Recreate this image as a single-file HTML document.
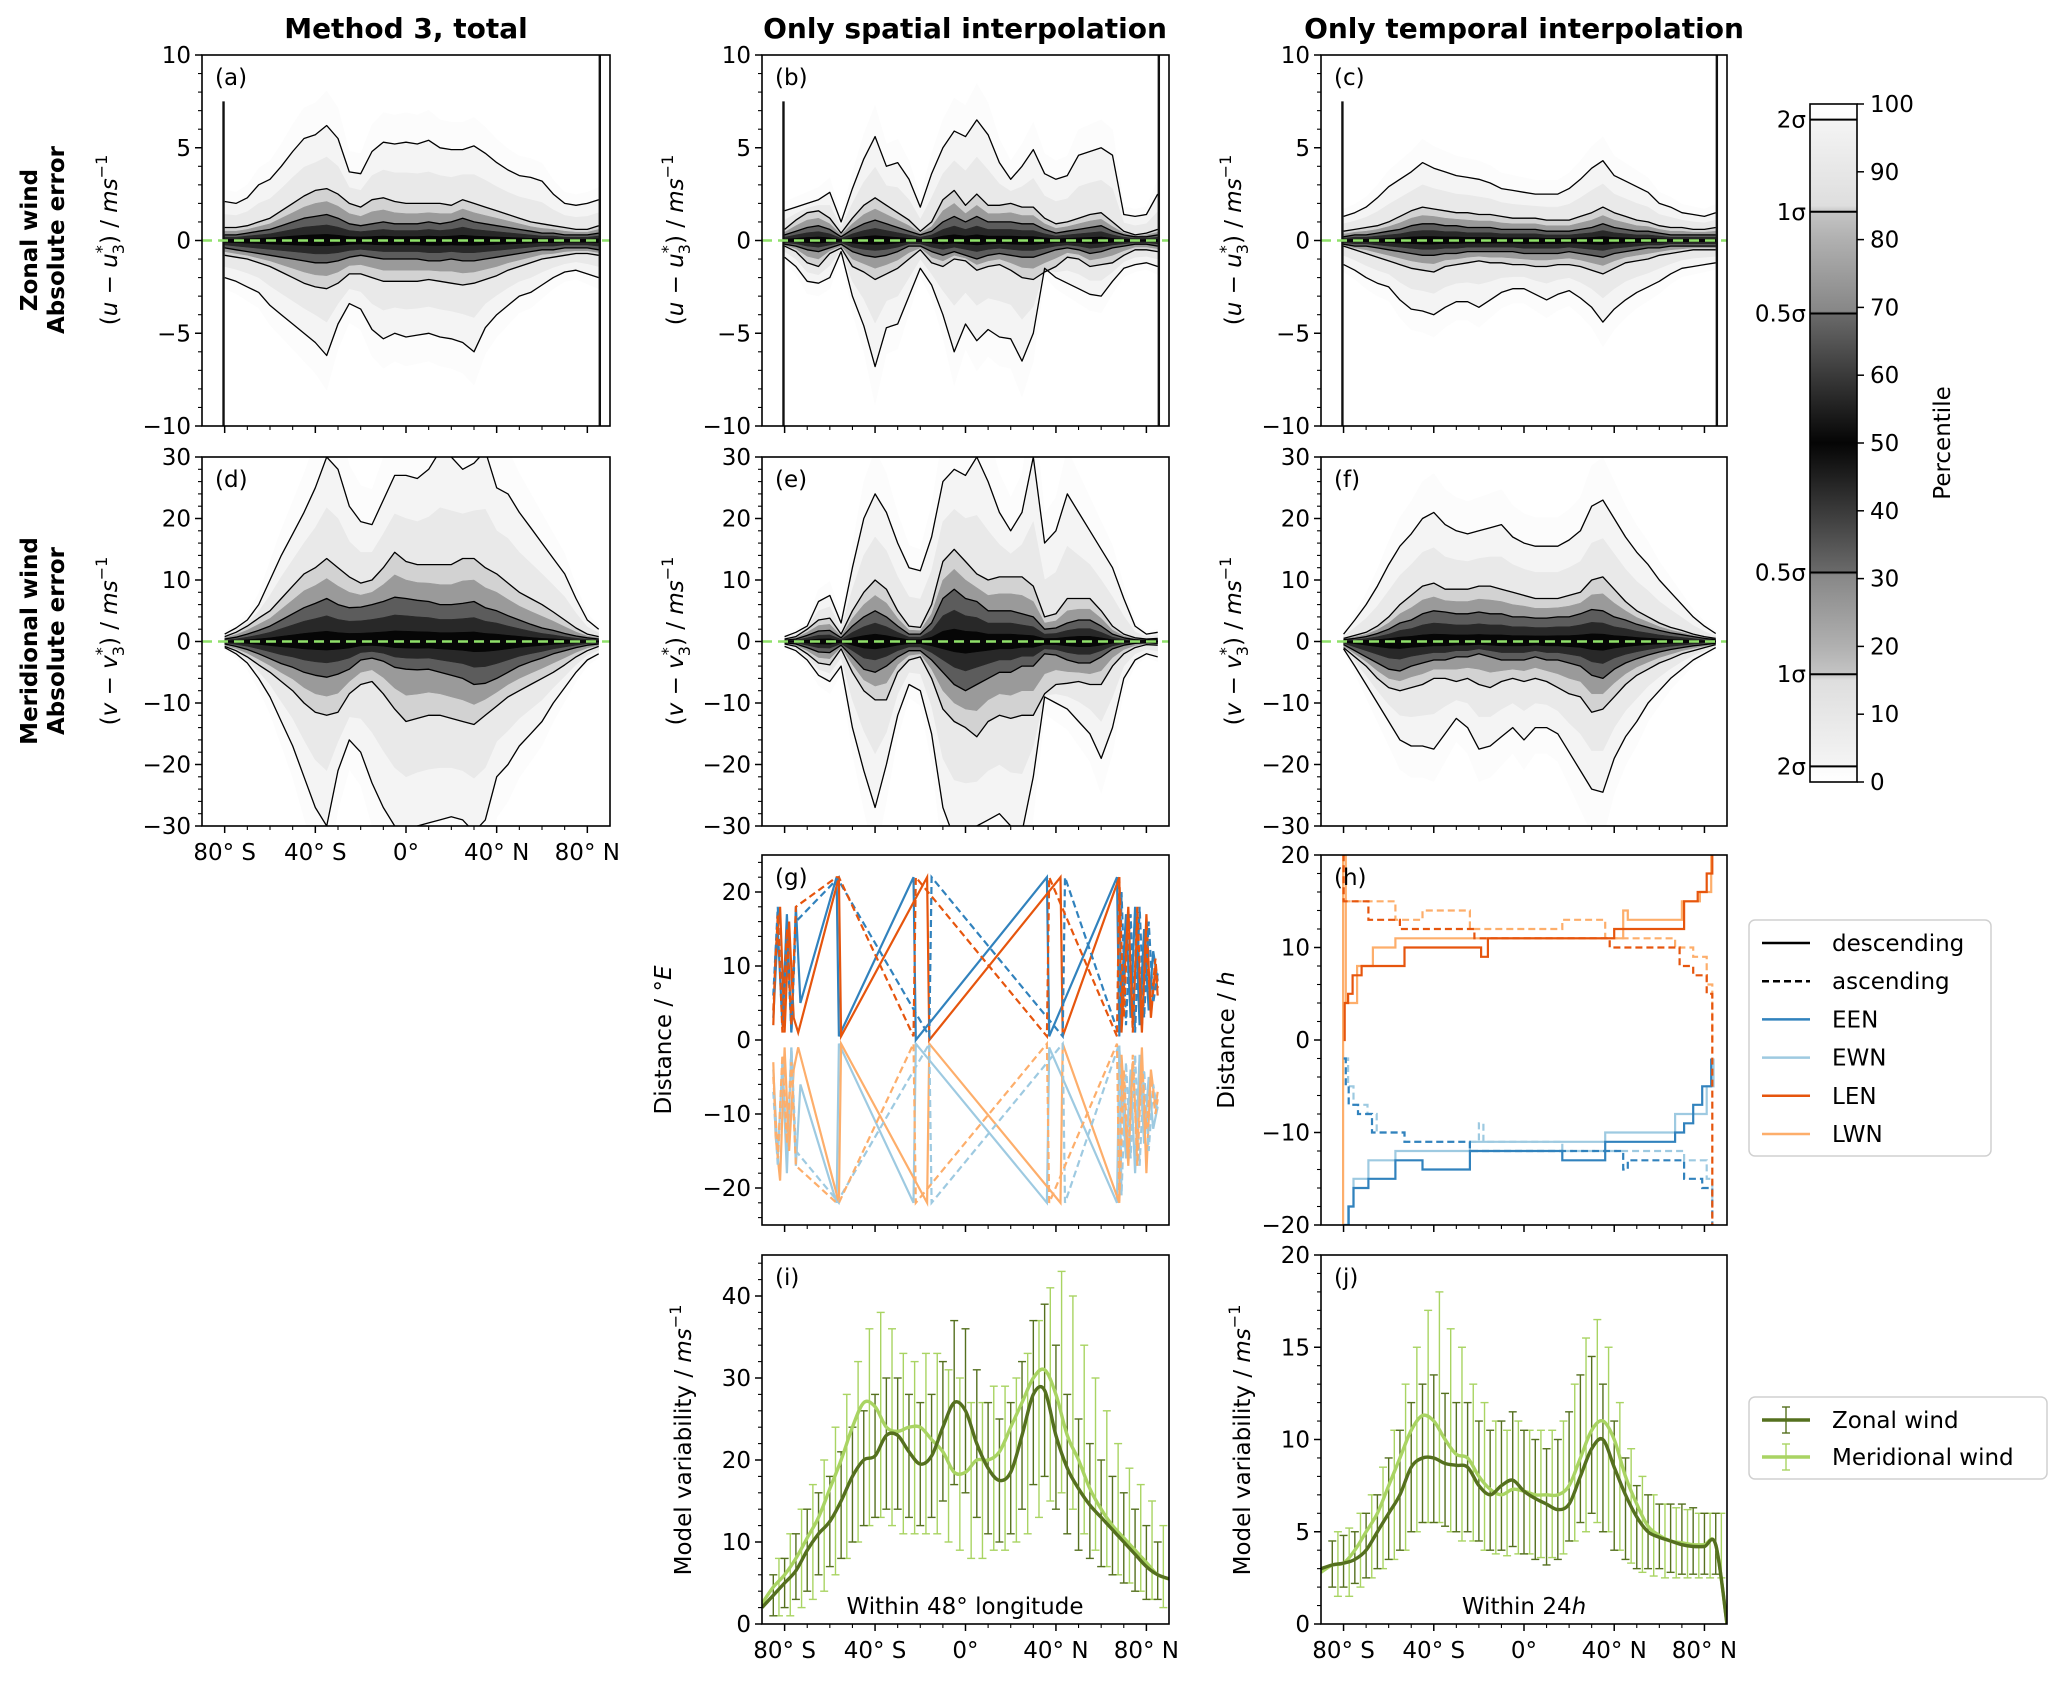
<!DOCTYPE html>
<html><head><meta charset="utf-8"><title>Interpolation error figure</title>
<style>
html,body{margin:0;padding:0;background:#fff;}
svg{display:block;font-family:"DejaVu Sans","Liberation Sans",sans-serif;}
</style></head>
<body>
<svg id="fig" width="2067" height="1681" viewBox="0 0 2067 1681" xmlns="http://www.w3.org/2000/svg"></svg>
<script>
// ---------------- DATA ----------------
const LAT = [-80,-75,-70,-65,-60,-55,-50,-45,-40,-35,-30,-25,-20,-15,-10,-5,0,5,10,15,20,25,30,35,40,45,50,55,60,65,70,75,80,85];
// panel a
const aUp2=[2.1,2.0,2.3,3.0,3.3,4.0,4.8,5.5,5.7,6.2,5.5,3.7,3.6,4.8,5.3,5.2,5.3,5.2,5.4,5.0,4.9,4.9,5.1,4.7,4.2,3.8,3.5,3.4,3.2,2.5,2.0,1.9,2.0,2.2];
const aUp1=[0.7,0.7,0.8,1.0,1.2,1.6,2.0,2.4,2.7,2.8,2.5,2.0,1.8,2.2,2.3,2.1,2.0,2.0,2.0,2.0,1.9,2.2,2.0,1.8,1.6,1.4,1.2,1.0,0.9,0.8,0.7,0.6,0.6,0.8];
const aUp05=[0.3,0.3,0.4,0.5,0.6,0.8,1.0,1.2,1.3,1.4,1.2,0.9,0.8,0.9,1.0,0.9,0.9,0.9,1.0,0.9,1.0,1.2,1.0,0.9,0.8,0.7,0.6,0.5,0.4,0.4,0.3,0.3,0.3,0.4];
const aLo05=[-0.4,-0.5,-0.6,-0.7,-0.8,-0.9,-1.0,-1.1,-1.2,-1.2,-1.1,-0.9,-0.8,-0.9,-1.0,-1.0,-1.0,-1.0,-1.1,-1.1,-1.0,-1.1,-1.1,-1.0,-0.9,-0.8,-0.7,-0.6,-0.5,-0.5,-0.4,-0.4,-0.4,-0.5];
const aLo1=[-0.8,-0.9,-1.0,-1.2,-1.4,-1.7,-2.0,-2.3,-2.5,-2.6,-2.3,-1.8,-1.8,-2.0,-2.2,-2.2,-2.2,-2.2,-2.1,-2.2,-2.3,-2.4,-2.3,-2.1,-1.9,-1.6,-1.4,-1.2,-1.0,-0.9,-0.8,-0.7,-0.7,-0.8];
const aLo2=[-2.0,-2.2,-2.5,-2.8,-3.5,-4.0,-4.5,-5.0,-5.5,-6.2,-4.5,-3.4,-3.7,-4.8,-5.3,-5.0,-5.2,-5.1,-5.0,-5.2,-5.3,-5.5,-6.0,-4.7,-4.0,-3.5,-3.0,-2.8,-2.4,-2.0,-1.7,-1.6,-1.8,-2.0];
// panel b
const bUp2=[1.6,1.8,2.0,2.2,2.6,1.0,2.8,4.4,5.6,4.0,4.2,3.3,1.8,3.6,5.0,5.9,5.6,6.5,5.7,4.2,3.3,4.0,4.9,3.6,3.3,3.5,4.6,4.8,5.0,4.6,1.4,1.3,1.4,2.5];
const bUp1=[0.6,1.1,1.5,1.6,1.2,0.4,1.2,1.9,2.3,1.9,1.5,1.1,0.5,1.0,2.2,2.7,1.9,2.5,1.9,1.9,2.0,1.8,1.8,1.2,0.9,1.0,1.2,1.4,1.5,1.0,0.5,0.3,0.4,0.6];
const bUp05=[0.3,0.5,0.7,0.8,0.6,0.2,0.6,0.9,1.1,0.9,0.7,0.5,0.3,0.5,1.0,1.3,1.0,1.3,1.0,1.0,1.0,0.9,0.9,0.6,0.4,0.5,0.6,0.7,0.8,0.5,0.3,0.2,0.2,0.3];
const bLo05=[-0.2,-0.3,-0.5,-0.6,-0.4,-0.2,-0.6,-0.8,-0.9,-0.8,-0.6,-0.3,-0.3,-0.6,-0.8,-0.6,-0.8,-1.0,-0.8,-0.7,-0.8,-0.9,-0.9,-0.7,-0.5,-0.4,-0.5,-0.7,-0.6,-0.4,-0.3,-0.2,-0.2,-0.3];
const bLo1=[-0.3,-0.6,-1.2,-1.4,-0.7,-0.4,-1.4,-1.7,-2.1,-1.8,-1.5,-1.0,-0.5,-1.2,-1.4,-1.0,-1.1,-1.6,-1.4,-1.3,-1.6,-2.0,-2.1,-1.7,-1.4,-0.9,-1.0,-1.4,-1.3,-1.2,-0.8,-0.5,-0.5,-0.6];
const bLo2=[-0.9,-1.4,-2.2,-2.3,-2.0,-0.6,-3.0,-4.6,-6.8,-4.7,-4.5,-3.0,-1.5,-2.4,-4.0,-6.0,-4.5,-5.4,-4.8,-5.2,-5.3,-6.5,-5.0,-1.5,-2.0,-2.3,-2.6,-2.9,-3.0,-2.2,-1.5,-1.3,-1.2,-1.4];
// panel c
const cUp2=[1.3,1.5,1.8,2.3,2.9,3.3,3.7,4.2,3.9,3.7,3.5,3.4,3.3,3.1,2.8,2.7,2.6,2.5,2.5,2.5,2.8,3.3,3.9,4.3,3.5,3.2,2.9,2.6,2.0,1.8,1.5,1.4,1.3,1.5];
const cUp1=[0.5,0.6,0.7,0.8,1.0,1.3,1.6,1.8,1.7,1.6,1.5,1.5,1.4,1.4,1.3,1.2,1.2,1.2,1.1,1.1,1.1,1.3,1.5,1.8,1.5,1.3,1.1,1.0,0.8,0.7,0.7,0.6,0.6,0.7];
const cUp05=[0.2,0.3,0.3,0.4,0.5,0.6,0.8,0.9,0.9,0.8,0.8,0.7,0.7,0.7,0.6,0.6,0.6,0.6,0.5,0.5,0.5,0.6,0.7,0.9,0.7,0.6,0.5,0.5,0.4,0.3,0.3,0.3,0.3,0.3];
const cLo05=[-0.2,-0.3,-0.3,-0.4,-0.5,-0.6,-0.7,-0.8,-0.8,-0.7,-0.7,-0.6,-0.6,-0.6,-0.6,-0.6,-0.7,-0.7,-0.7,-0.7,-0.6,-0.7,-0.8,-0.9,-0.7,-0.6,-0.5,-0.4,-0.4,-0.3,-0.3,-0.3,-0.3,-0.3];
const cLo1=[-0.3,-0.5,-0.7,-0.9,-1.1,-1.3,-1.5,-1.6,-1.7,-1.4,-1.3,-1.2,-1.1,-1.2,-1.2,-1.3,-1.3,-1.4,-1.4,-1.3,-1.3,-1.4,-1.6,-1.8,-1.5,-1.2,-1.1,-1.0,-0.8,-0.7,-0.6,-0.5,-0.5,-0.5];
const cLo2=[-1.3,-1.6,-2.0,-2.3,-2.5,-3.2,-3.7,-3.8,-4.0,-3.6,-3.3,-3.3,-3.6,-3.2,-2.8,-2.6,-2.6,-2.9,-3.2,-2.9,-2.7,-3.1,-3.6,-4.4,-3.7,-3.2,-2.8,-2.5,-2.2,-1.8,-1.5,-1.4,-1.3,-1.2];
// panel d
const dUp2=[1.2,2.2,3.5,6,10,14,17.5,21,25,30,28,22,19.5,19,23,27,27,26.5,28,31,30,28,29,31,25,24,21,18.5,16,13.5,11,7,3.5,2];
const dUp1=[0.8,1.5,2.5,3.8,5,7,9,11,12,13.5,12,10.5,9.5,10,12,14.5,13,12.5,12.5,12.5,12.5,13.5,13.5,12,11,9.5,8,7,6,4.8,3.5,2.2,1.2,0.8];
const dUp05=[0.4,0.7,1.2,1.8,2.5,3.5,4.5,5.5,6.2,7,6,5.5,5.6,6,6.5,7.2,7,6.7,6.5,6,6,6.2,6.5,5.5,5,4.2,3.5,2.8,2.2,1.8,1.3,0.9,0.6,0.4];
const dLo05=[-0.4,-0.8,-1.3,-2,-2.8,-3.6,-4.2,-5,-5.5,-5.8,-5.3,-4.5,-3,-2.7,-3.2,-4.2,-4.5,-4.6,-4.5,-5,-5.5,-6,-7,-6.8,-6,-5,-4,-3.3,-2.7,-2,-1.5,-1,-0.6,-0.4];
const dLo1=[-0.8,-1.5,-2.5,-3.8,-5,-6.5,-8,-10,-11.5,-12,-11.5,-8.5,-7,-6.5,-8.5,-11,-13,-12.5,-12,-12,-12.5,-13,-13.5,-12,-10.5,-9,-8,-7,-6,-5,-3.8,-2.5,-1.5,-0.8];
const dLo2=[-1,-2,-3.5,-6,-9,-13,-17,-22,-27,-30,-21,-16,-18,-23,-27,-30,-31,-30,-29.5,-29,-28.5,-29,-31,-29,-22,-20,-17,-15,-13,-10,-7.5,-5,-3,-2];
// panel e
const eUp2=[0.8,1.5,2.5,6.5,7.5,3.0,12,20,24,21,16,12,11.5,17,26,28,27,30,26,21,18,21,30,16,18,24,21,18,15,12,7,2.5,1.2,1.5];
const eUp1=[0.4,0.8,2,3.5,3.8,1.2,5,8,10,8.5,5,2.5,2.3,6,13,15,13,11,10,10.5,10.5,10.5,9,4,4.5,7,7,7,5,2.5,1.2,0.6,0.4,0.5];
const eUp05=[0.2,0.4,1,1.7,1.8,0.6,2.5,4,5,4,2.5,1.2,1.2,3,7,8.5,7,6.5,5,5,5,4.5,4,2,2.2,3,3.5,3.5,2.5,1.2,0.6,0.3,0.2,0.3];
const eLo05=[-0.2,-0.4,-1,-1.7,-1.8,-0.6,-2.5,-4.5,-5,-4,-2.5,-1.5,-1.5,-3,-5,-7,-8,-7,-6,-5,-5,-4,-4,-2,-2.2,-3,-3.5,-3.5,-2.5,-1.2,-0.6,-0.3,-0.2,-0.3];
const eLo1=[-0.4,-0.8,-2,-3.5,-3.8,-1.2,-5,-8,-9.5,-9.5,-5,-3,-2.5,-6,-11,-13,-14,-15.5,-13,-12,-12.5,-12,-12,-8.5,-7,-6.8,-6.5,-7,-7,-4,-2,-1,-0.5,-0.6];
const eLo2=[-0.8,-1.5,-3,-5.5,-6.5,-4,-14,-21,-27,-20,-12,-7,-8,-15,-27,-32,-32,-30,-29,-28,-30,-31,-22,-9,-10,-11,-13,-15,-19,-14,-6,-3,-2,-2.5];
// panel f
const fUp2=[1.2,3.5,6,9,12.5,15.5,17.5,20,21,19,18,17.5,18,18.5,19,17,16,15.5,15.5,15.5,16.5,18,22,23,20,17,14.5,12.5,10,8,6,4,2.5,1.3];
const fUp1=[0.5,1.0,1.5,2.5,4,6,7.5,9,9.5,8.5,8.5,8.5,9,9,8.5,8,7.5,7,7,7,7.5,8,10,10.5,8.5,6.5,5,4,3,2.3,1.8,1.2,0.8,0.5];
const fUp05=[0.3,0.5,0.8,1.3,2,3,3.5,4.5,5,4.8,4.5,4.5,4.8,4.5,4.5,4,4,3.8,3.8,4,4,4.5,5.2,5,4,3.5,2.8,2.3,1.8,1.4,1.1,0.8,0.5,0.3];
const fLo05=[-0.5,-1.5,-2.5,-3.5,-4.5,-4.8,-4,-3.5,-3,-3,-2.5,-2.5,-2,-2.5,-3,-3,-3,-2.5,-3,-3,-3.5,-4,-5.5,-6,-4.5,-3.5,-2.8,-2.2,-1.7,-1.3,-1,-0.7,-0.5,-0.3];
const fLo1=[-1,-2.5,-4,-6,-7.5,-8,-7.5,-7,-6,-6,-6.5,-6,-7,-7.5,-6.5,-6,-6.5,-6,-6.5,-7.5,-8.5,-9,-11.5,-11,-9,-7,-5.5,-4.5,-3.5,-2.8,-2,-1.5,-1,-0.5];
const fLo2=[-1.2,-4,-7,-10,-13,-16,-17,-17,-17.5,-15,-12.5,-14,-17.5,-17,-15.5,-14,-16,-14,-14,-15,-18,-21,-24,-24.5,-19,-15.5,-13,-10,-8,-6,-4.5,-3,-2,-1];
// edge spikes [lat, ymin, ymax]
const aSpikes=[[-80.5,-10,7.5],[85.5,-10,10]];
const bSpikes=[[-80.5,-10,7.5],[85.5,-10,10]];
const cSpikes=[[-80.5,-10,7.5],[85.5,-10,10]];

// panel g (distance in degrees east)
const gEENdLat=[-85,-83,-81,-79,-77,-75,-73,-57,-56,-23,-22,36,37,67,68,71,73,75,77,79,81,83,85];
const gEENdVal=[3,15,2,17,1,18,5,22,0.5,22,0,22,0.5,22,1,17,3,18,2,15,4,12,8];
const gLENdLat=[-85,-84,-82,-80,-78,-76,-74,-56,-55,-17,-16,42,43,68,69,72,74,76,78,80,82,84,85];
const gLENdVal=[2,12,18,1,16,3,1,22,0.5,22,0,22,0.5,22,1,18,2,16,1,17,3,10,6];
const gEENaLat=[-85,-83,-81,-79,-77,-75,-56,-55,-16,-15,43,44,68,69,71,73,75,77,79,81,83,85];
const gEENaVal=[6,18,2,14,1,16,22,21,0.5,22,0.5,22,0.5,20,2,17,1,18,3,16,5,9];
const gLENaLat=[-85,-83,-81,-79,-77,-75,-57,-56,-23,-22,36,37,67,68,70,72,74,76,78,80,82,84,85];
const gLENaVal=[4,17,1,15,2,18,22,22,0.5,22,0.5,22,0.5,22,3,17,1,18,2,13,4,11,7];
const gEWNdLat=gEENdLat;
const gEWNdVal=[-4,-16,-3,-18,-1,-17,-6,-22,-0.5,-22,-0.5,-22,-1,-22,-1,-16,-4,-18,-2,-14,-5,-12,-9];
const gLWNdLat=gLENdLat;
const gLWNdVal=[-3,-13,-19,-1,-15,-4,-1,-22,-0.5,-22,-0.5,-22,-0.5,-22,-2,-17,-3,-15,-1,-18,-4,-9,-7];
const gEWNaLat=gEENaLat;
const gEWNaVal=[-7,-17,-3,-15,-1,-15,-22,-21,-0.5,-22,-0.5,-22,-0.5,-21,-3,-16,-2,-17,-4,-15,-6,-10];
const gLWNaLat=gLENaLat;
const gLWNaVal=[-5,-16,-2,-14,-3,-17,-22,-22,-0.5,-22,-0.5,-22,-0.5,-22,-4,-16,-2,-17,-3,-12,-5,-10,-8];

// panel h (distance in hours, step functions)
const hLENdLat=[-80,-79.5,-78,-76,-72,-53,-19,-16,40,71,77,81,83.5];
const hLENdVal=[0,4,5,7,8,10,9,11,12,15,16,18,20];
const hLWNdLat=[-80.6,-80.2,-79,-74,-67,-57,42,44,46,70,78,83];
const hLWNdVal=[-20,20,4,8,10,11,11,14,13,15,16,20];
const hLENaLat=[-80.3,-80,-69,-55,-22,38,69,75,81,83.5];
const hLENaVal=[20,15,13,12,11,10,8,7,5,-20];
const hLWNaLat=[-80,-69,-57,-45,-24,17,36,67,75,81,83.5];
const hLWNaVal=[15,15,13,14,12,13,11,10,9,6,0];
const hEENdLat=[-80,-77.7,-75.6,-69,-57,-45,-24,17,36,67,71,75,79,83];
const hEENdVal=[-20,-18,-16,-15,-13,-14,-12,-13,-11,-10,-9,-7,-5,-2];
const hEWNdLat=[-80,-78,-75.6,-69,-57,-24,36,67,81,84];
const hEWNdVal=[-20,-18,-15,-13,-12,-11,-10,-8,-5,-2];
const hEENaLat=[-80,-79,-77.7,-73.6,-67.4,-53,-24,17,44,46,71,79,83.5];
const hEENaVal=[-2,-5,-7,-8,-10,-11,-12,-12,-14,-13,-15,-16,-20];
const hEWNaLat=[-80,-78,-75.6,-69.4,-65.3,-53,-20,-18,17,71,81,83.5];
const hEWNaVal=[-2,-5,-7,-8,-10,-11,-9,-11,-12,-13,-15,-18];

// panels i / j (model variability)
const MEANLAT=[-90,-85,-80,-75,-70,-65,-60,-55,-50,-45,-40,-35,-30,-25,-20,-15,-10,-5,0,5,10,15,20,25,30,35,40,45,50,55,60,65,70,75,80,85,90];
const BARLAT=[-85,-80,-75,-70,-65,-60,-55,-50,-45,-40,-35,-30,-25,-20,-15,-10,-5,0,5,10,15,20,25,30,35,40,45,50,55,60,65,70,75,80,85];
const iZonal=[2,3.5,5,6.5,9,11,12.5,15,18,20,20.5,23,23,21,19.5,20.5,24,27,26,22,19,17.5,18.5,23,28,28.5,23,19,16.5,14.5,13,11.5,10,8.5,7,6,5.5];
const iMerid=[2.5,4.5,6,8,10.5,13,16.5,20,24,27,26.5,24,23.5,24,24,22.5,21,18.5,18.5,20,20,21,24,27,30,31,28,23,20,16.5,14,12,10.5,9,7.5,6,5.5];
const iZonalHi=[6,8,11,14,16,18,21,24,26,28,30,30,28,27,28,32,37,36,31,27,25,27,32,37,39,34,28,25,22,20,18,16,14,12,10];
const iZonalLo=[1,2,3,4,6,7,8,10,12,13,14,14,13,12,13,15,17,16,13,11,10,11,14,17,18,14,11,9,8,7,6,5,4,3,3];
const iMeridHi=[8,11,14,17,20,24,28,32,36,38,36,33,32,33,33,31,30,27,27,29,29,30,33,37,41,43,40,34,30,26,22,19,17,15,12];
const iMeridLo=[1,1,2,3,4,6,8,10,12,13,12,11,11,11,11,10,9,8,8,9,9,10,11,13,15,16,14,11,9,7,6,5,4,3,2];
const jZonal=[3,3.2,3.3,3.5,4,5,6,7,8.5,9,9,8.7,8.6,8.5,7.5,7,7.5,7.8,7.2,6.8,6.5,6.2,6.5,8,9.5,10,8.5,7,5.8,5,4.7,4.5,4.3,4.2,4.2,4.3,0];
const jMerid=[2.8,3.2,3.3,4,5,6,7.5,9,10.5,11.3,11,10,9.2,9,8,7.3,7,7.3,7.2,7,7,7,7.5,9,10.5,11,10,8,6.5,5.3,4.8,4.5,4.4,4.3,4.3,4.3,0];
const jZonalHi=[4.5,4.8,5,6,7,9,10.5,12,13,13.5,12.5,12,12,11,10.5,11,11.5,10.5,10,9.5,10,11.5,13.5,14.5,13,11,9,7.5,7,6.5,6.5,6.5,6.3,6,6];
const jZonalLo=[2,2,2.2,2.5,3,3.5,4,5,5.5,5.5,5.3,5,5,4.5,4,4,4.2,3.8,3.5,3.2,3.5,4.5,5.5,6,5,4,3.5,3,3,3,2.8,2.7,2.7,2.7,2.7];
const jMeridHi=[5,5.2,6,7,8.5,10.5,13,15,17,18,16,15,13,12,11,10.5,11,10.5,10.5,10.5,11,13,15.5,16.5,15,12,9.5,8,7,6.5,6.3,6.2,6,6,6];
const jMeridLo=[1.5,1.5,2,2.5,3,3.5,4,5,5.5,5.5,5,4.5,4.5,4,3.8,3.7,3.8,3.8,3.6,3.6,3.8,4.5,5,5.5,5,4,3.3,2.8,2.6,2.5,2.5,2.5,2.5,2.5,2.5];

const XTICK_LABELS=["80° S","40° S","0°","40° N","80° N"];
const XTICKS=[-80,-40,0,40,80];
const CB_TICKS=[0,10,20,30,40,50,60,70,80,90,100];
const CB_SIGMA=[97.7,84.1,69.1,30.9,15.9,2.3];
const CB_SIGMA_LABELS=["2σ","1σ","0.5σ","0.5σ","1σ","2σ"];

// ---------------- RENDER ----------------
const NS="http://www.w3.org/2000/svg";
const svg=document.getElementById("fig");
function mk(tag,parent,attrs){const e=document.createElementNS(NS,tag);for(const k in attrs)e.setAttribute(k,attrs[k]);parent.appendChild(e);return e;}
const defs=mk("defs",svg,{});
const FS=23;
const COL=[[202,610],[762,1169],[1321,1727]];
const ROW=[[55,426],[457,826],[855,1225],[1255,1624]];
let clipN=0;

function makeAxes(name,c,r,ymin,ymax,yMajor,yMinor,showYLab,showXLab,xmin,xmax){
  const [x0,x1]=COL[c],[y0,y1]=ROW[r];
  xmin=xmin===undefined?-90:xmin; xmax=xmax===undefined?90:xmax;
  const g=mk("g",svg,{});
  
  
  const sx=v=>x0+(v-xmin)/(xmax-xmin)*(x1-x0);
  const sy=v=>y1-(v-ymin)/(ymax-ymin)*(y1-y0);
  const id="clip"+(clipN++);
  const cp=mk("clipPath",defs,{id:id});
  mk("rect",cp,{x:x0,y:y0,width:x1-x0,height:y1-y0});
  const plot=mk("g",g,{"clip-path":"url(#"+id+")"});
  
  
  const ax={g,plot,sx,sy,x0,x1,y0,y1};
  ax.finish=function(){
    const fr=mk("rect",g,{x:x0,y:y0,width:x1-x0,height:y1-y0,fill:"none",stroke:"#000","stroke-width":1.6});
    
    
    const eps=1e-6;
    const start=Math.ceil(ymin/yMinor-eps)*yMinor;
    for(let k=0;start+k*yMinor<=ymax+eps;k++){
      const v=Math.round((start+k*yMinor)*1000)/1000;
      const isMaj=Math.abs(v/yMajor-Math.round(v/yMajor))<1e-6;
      const t=mk("line",g,{x1:x0,x2:x0-(isMaj?7:4),y1:sy(v),y2:sy(v),stroke:"#000","stroke-width":isMaj?1.5:1.1});
      
      
      if(isMaj&&showYLab){
        const tx=mk("text",g,{x:x0-11,y:sy(v)+8,"text-anchor":"end","font-size":FS});
        tx.textContent=(v<0?"−":"")+Math.abs(v);
        
        
      }
    }
    for(let v=-80;v<=80;v+=10){
      const isMaj=XTICKS.indexOf(v)>=0;
      const t=mk("line",g,{x1:sx(v),x2:sx(v),y1:y1,y2:y1+(isMaj?7:4),stroke:"#000","stroke-width":isMaj?1.5:1.1});
      
      
    }
    if(showXLab){
      XTICKS.forEach((v,i)=>{
        const tx=mk("text",g,{x:sx(v),y:y1+34,"text-anchor":"middle","font-size":FS});
        tx.textContent=XTICK_LABELS[i];
        
        
      });
    }
  };
  return ax;
}
function panelLetter(ax,txt){
  const t=mk("text",ax.g,{x:ax.x0+13,y:ax.y0+30,"font-size":FS});
  t.textContent=txt;
  
  
}
function ylabel(x,yc,parts){
  const t=mk("text",svg,{transform:"translate("+x+","+yc+") rotate(-90)","text-anchor":"middle","font-size":FS});
  
  
  parts.forEach(p=>{const s=mk("tspan",t,p.a||{});s.textContent=p.t;});
  return t;
}
function windLabel(x,yc,v){
  return ylabel(x,yc,[{t:"("},{t:v,a:{"font-style":"italic"}},{t:" − "},{t:v,a:{"font-style":"italic"}},
    {t:"*",a:{"font-size":16,dy:-10}},{t:"3",a:{"font-size":16,dx:-9,dy:17}},{t:") / ",a:{dy:-7}},
    {t:"ms",a:{"font-style":"italic"}},{t:"−1",a:{"font-size":16,dy:-10}}]);
}
function lvl(k,u05,u1,u2){
  if(k<=0.5)return u05*k/0.5;
  if(k<=1)return u05+(u1-u05)*(k-0.5)/0.5;
  if(k<=2)return u1+(u2-u1)*(k-1);
  return u2*k/2;
}
const BANDS=[[2.6,"#fcfcfc"],[2,"#f4f4f4"],[1.5,"#e9e9e9"],[1,"#d2d2d2"],[0.75,"#9a9a9a"],[0.5,"#5c5c5c"],[0.3,"#282828"],[0.12,"#060606"]];
function heat(ax,up2,up1,up05,lo05,lo1,lo2,spikes){
  BANDS.forEach(([k,col])=>{
    const pts=[];
    for(let i=0;i<LAT.length;i++)pts.push(ax.sx(LAT[i]).toFixed(1)+","+ax.sy(lvl(k,up05[i],up1[i],up2[i])).toFixed(1));
    for(let i=LAT.length-1;i>=0;i--)pts.push(ax.sx(LAT[i]).toFixed(1)+","+ax.sy(-lvl(k,-lo05[i],-lo1[i],-lo2[i])).toFixed(1));
    const p=mk("polygon",ax.plot,{points:pts.join(" "),fill:col,stroke:col,"stroke-width":0.5});
    
    
  });
  [up2,up1,up05,lo05,lo1,lo2].forEach(arr=>{
    const pts=arr.map((v,i)=>ax.sx(LAT[i]).toFixed(1)+","+ax.sy(v).toFixed(1)).join(" ");
    const l=mk("polyline",ax.plot,{points:pts,fill:"none",stroke:"#000","stroke-width":1.3,"stroke-linejoin":"round"});
    
    
  });
  (spikes||[]).forEach(s=>{
    const l=mk("line",ax.plot,{x1:ax.sx(s[0]),x2:ax.sx(s[0]),y1:ax.sy(s[1]),y2:ax.sy(s[2]),stroke:"#111","stroke-width":2.4});
    
    
  });
  const z=mk("line",ax.plot,{x1:ax.x0,x2:ax.x1,y1:ax.sy(0),y2:ax.sy(0),stroke:"#8fe06a","stroke-width":2.6,"stroke-dasharray":"10,6"});
  
  
}

// titles
[["Method 3, total",406],["Only spatial interpolation",965],["Only temporal interpolation",1524]].forEach(([t,x])=>{
  const e=mk("text",svg,{x:x,y:38,"text-anchor":"middle","font-size":28,"font-weight":"bold"});
  e.textContent=t;
  
  
});
function rowLabel(l1,l2,yc){
  const e=mk("text",svg,{transform:"translate(37,"+yc+") rotate(-90)","text-anchor":"middle","font-size":FS,"font-weight":"bold"});
  
  
  const a=mk("tspan",e,{x:0,dy:0});a.textContent=l1;
  const b=mk("tspan",e,{x:0,dy:27});b.textContent=l2;
}
rowLabel("Zonal wind","Absolute error",240);
rowLabel("Meridional wind","Absolute error",641);

// row 1
const pa=makeAxes("panel-a",0,0,-10,10,5,1,true,false);heat(pa,aUp2,aUp1,aUp05,aLo05,aLo1,aLo2,aSpikes);pa.finish();panelLetter(pa,"(a)");
const pb=makeAxes("panel-b",1,0,-10,10,5,1,true,false);heat(pb,bUp2,bUp1,bUp05,bLo05,bLo1,bLo2,bSpikes);pb.finish();panelLetter(pb,"(b)");
const pc=makeAxes("panel-c",2,0,-10,10,5,1,true,false);heat(pc,cUp2,cUp1,cUp05,cLo05,cLo1,cLo2,cSpikes);pc.finish();panelLetter(pc,"(c)");
windLabel(117,240,"u");windLabel(683,240,"u");windLabel(1241,240,"u");
// row 2
const pd=makeAxes("panel-d",0,1,-30,30,10,2,true,true);heat(pd,dUp2,dUp1,dUp05,dLo05,dLo1,dLo2,[]);pd.finish();panelLetter(pd,"(d)");
const pe=makeAxes("panel-e",1,1,-30,30,10,2,true,false);heat(pe,eUp2,eUp1,eUp05,eLo05,eLo1,eLo2,[]);pe.finish();panelLetter(pe,"(e)");
const pf=makeAxes("panel-f",2,1,-30,30,10,2,true,false);heat(pf,fUp2,fUp1,fUp05,fLo05,fLo1,fLo2,[]);pf.finish();panelLetter(pf,"(f)");
windLabel(117,641,"v");windLabel(683,641,"v");windLabel(1241,641,"v");

// panel g
const C_EEN="#3182bd",C_EWN="#9ecae1",C_LEN="#e6550d",C_LWN="#fdae6b";
const pg=makeAxes("panel-g",1,2,-25,25,10,2,true,false);
function poly(ax,lats,vals,col,dash,name,step){
  const pts=[];
  for(let i=0;i<lats.length;i++){
    if(step&&i>0)pts.push(ax.sx(lats[i]).toFixed(1)+","+ax.sy(vals[i-1]).toFixed(1));
    pts.push(ax.sx(lats[i]).toFixed(1)+","+ax.sy(vals[i]).toFixed(1));
  }
  const l=mk("polyline",ax.plot,{points:pts.join(" "),fill:"none",stroke:col,"stroke-width":2.2,"stroke-dasharray":dash?"7,4":"none"});
  
  
}
poly(pg,gEWNdLat,gEWNdVal,C_EWN,false,"ewn-descending-line");
poly(pg,gLWNdLat,gLWNdVal,C_LWN,false,"lwn-descending-line");
poly(pg,gEWNaLat,gEWNaVal,C_EWN,true,"ewn-ascending-line");
poly(pg,gLWNaLat,gLWNaVal,C_LWN,true,"lwn-ascending-line");
poly(pg,gEENdLat,gEENdVal,C_EEN,false,"een-descending-line");
poly(pg,gLENdLat,gLENdVal,C_LEN,false,"len-descending-line");
poly(pg,gEENaLat,gEENaVal,C_EEN,true,"een-ascending-line");
poly(pg,gLENaLat,gLENaVal,C_LEN,true,"len-ascending-line");
pg.finish();panelLetter(pg,"(g)");
ylabel(671,1040,[{t:"Distance / °"},{t:"E",a:{"font-style":"italic"}}]);

// panel h
const ph=makeAxes("panel-h",2,2,-20,20,10,2,true,false);
poly(ph,hEWNdLat,hEWNdVal,C_EWN,false,"ewn-descending-step",true);
poly(ph,hLWNdLat,hLWNdVal,C_LWN,false,"lwn-descending-step",true);
poly(ph,hEWNaLat,hEWNaVal,C_EWN,true,"ewn-ascending-step",true);
poly(ph,hLWNaLat,hLWNaVal,C_LWN,true,"lwn-ascending-step",true);
poly(ph,hEENdLat,hEENdVal,C_EEN,false,"een-descending-step",true);
poly(ph,hLENdLat,hLENdVal,C_LEN,false,"len-descending-step",true);
poly(ph,hEENaLat,hEENaVal,C_EEN,true,"een-ascending-step",true);
poly(ph,hLENaLat,hLENaVal,C_LEN,true,"len-ascending-step",true);
ph.finish();panelLetter(ph,"(h)");
ylabel(1234,1040,[{t:"Distance / "},{t:"h",a:{"font-style":"italic"}}]);

// legend g/h
(function(){
  const g=mk("g",svg,{});
  
  
  mk("rect",g,{x:1749,y:920,width:242,height:236,rx:6,fill:"#fff",stroke:"#d0d0d0","stroke-width":1.5});
  const items=[["descending","#000",false],["ascending","#000",true],["EEN",C_EEN,false],["EWN",C_EWN,false],["LEN",C_LEN,false],["LWN",C_LWN,false]];
  items.forEach((it,i)=>{
    const y=943+i*38.2;
    const e=mk("g",g,{});
    
    
    mk("line",e,{x1:1762,x2:1810,y1:y,y2:y,stroke:it[1],"stroke-width":2.5,"stroke-dasharray":it[2]?"7,4":"none"});
    const t=mk("text",e,{x:1832,y:y+8,"font-size":FS});t.textContent=it[0];
  });
})();

// panel i/j
function smooth(ax,lats,vals){
  const P=lats.map((l,i)=>[ax.sx(l),ax.sy(vals[i])]);
  let d="M"+P[0][0].toFixed(1)+","+P[0][1].toFixed(1);
  for(let i=0;i<P.length-1;i++){
    const p0=P[Math.max(0,i-1)],p1=P[i],p2=P[i+1],p3=P[Math.min(P.length-1,i+2)];
    const c1=[p1[0]+(p2[0]-p0[0])/6,p1[1]+(p2[1]-p0[1])/6],c2=[p2[0]-(p3[0]-p1[0])/6,p2[1]-(p3[1]-p1[1])/6];
    d+=" C"+c1[0].toFixed(1)+","+c1[1].toFixed(1)+" "+c2[0].toFixed(1)+","+c2[1].toFixed(1)+" "+p2[0].toFixed(1)+","+p2[1].toFixed(1);
  }
  return d;
}
const C_Z="#55701f",C_M="#a9d463";
function varPanel(ax,zm,mm,zh,zl,mh,ml,off){
  BARLAT.forEach((l,i)=>{
    [[l+off,mh[i],ml[i],C_M,'meridional-error-bar'],[l,zh[i],zl[i],C_Z,'zonal-error-bar']].forEach(b=>{
      const x=ax.sx(b[0]);
      const e=mk("g",ax.plot,{stroke:b[3],"stroke-width":1.4});
      
      
      mk("line",e,{x1:x,x2:x,y1:ax.sy(b[1]),y2:ax.sy(b[2])});
      mk("line",e,{x1:x-4,x2:x+4,y1:ax.sy(b[1]),y2:ax.sy(b[1])});
      mk("line",e,{x1:x-4,x2:x+4,y1:ax.sy(b[2]),y2:ax.sy(b[2])});
    });
  });
  const m=mk("path",ax.plot,{d:smooth(ax,MEANLAT,mm),fill:"none",stroke:C_M,"stroke-width":3.4});
  
  
  const z=mk("path",ax.plot,{d:smooth(ax,MEANLAT,zm),fill:"none",stroke:C_Z,"stroke-width":3.4});
  
  
}
const pi=makeAxes("panel-i",1,3,0,45,10,2,true,true);
varPanel(pi,iZonal,iMerid,iZonalHi,iZonalLo,iMeridHi,iMeridLo,2.5);
pi.finish();panelLetter(pi,"(i)");
(function(){const t=mk("text",svg,{x:965,y:1614,"text-anchor":"middle","font-size":FS});t.textContent="Within 48° longitude";})();
const pj=makeAxes("panel-j",2,3,0,20,5,1,true,true);
varPanel(pj,jZonal,jMerid,jZonalHi,jZonalLo,jMeridHi,jMeridLo,2.5);
pj.finish();panelLetter(pj,"(j)");
(function(){const t=mk("text",svg,{x:1524,y:1614,"text-anchor":"middle","font-size":FS});
  const a=mk("tspan",t,{});a.textContent="Within 24";const b=mk("tspan",t,{"font-style":"italic"});b.textContent="h";})();
ylabel(691,1440,[{t:"Model variability / "},{t:"ms",a:{"font-style":"italic"}},{t:"−1",a:{"font-size":16,dy:-10}}]);
ylabel(1250,1440,[{t:"Model variability / "},{t:"ms",a:{"font-style":"italic"}},{t:"−1",a:{"font-size":16,dy:-10}}]);

// legend i/j
(function(){
  const g=mk("g",svg,{});
  
  
  mk("rect",g,{x:1749,y:1397,width:298,height:82,rx:6,fill:"#fff",stroke:"#d0d0d0","stroke-width":1.5});
  [["Zonal wind",C_Z,1420],["Meridional wind",C_M,1457]].forEach(it=>{
    const e=mk("g",g,{});
    
    
    mk("line",e,{x1:1762,x2:1810,y1:it[2],y2:it[2],stroke:it[1],"stroke-width":3.4});
    mk("line",e,{x1:1786,x2:1786,y1:it[2]-13,y2:it[2]+13,stroke:it[1],"stroke-width":1.4});
    mk("line",e,{x1:1782,x2:1790,y1:it[2]-13,y2:it[2]-13,stroke:it[1],"stroke-width":1.4});
    mk("line",e,{x1:1782,x2:1790,y1:it[2]+13,y2:it[2]+13,stroke:it[1],"stroke-width":1.4});
    const t=mk("text",e,{x:1832,y:it[2]+8,"font-size":FS});t.textContent=it[0];
  });
})();

// colorbar
(function(){
  const X0=1810,X1=1857,Y0=104,Y1=782;
  const sy=p=>Y1-p/100*(Y1-Y0);
  const grad=mk("linearGradient",defs,{id:"cbgrad",x1:0,y1:0,x2:0,y2:1});
  [[0,"#ffffff"],[0.022,"#fbfbfb"],[0.025,"#f4f4f4"],[0.15,"#dedede"],[0.16,"#c4c4c4"],[0.2,"#b0b0b0"],[0.305,"#878787"],[0.31,"#6a6a6a"],[0.4,"#3a3a3a"],[0.5,"#050505"],[0.6,"#3a3a3a"],[0.69,"#6a6a6a"],[0.695,"#878787"],[0.8,"#b0b0b0"],[0.84,"#c4c4c4"],[0.85,"#dedede"],[0.975,"#f4f4f4"],[0.978,"#fbfbfb"],[1,"#ffffff"]]
    .forEach(s=>mk("stop",grad,{offset:s[0],"stop-color":s[1]}));
  const g=mk("g",svg,{});
  
  
  mk("rect",g,{x:X0,y:Y0,width:X1-X0,height:Y1-Y0,fill:"url(#cbgrad)",stroke:"#000","stroke-width":1.6});
  CB_SIGMA.forEach((p,i)=>{
    const l=mk("line",g,{x1:X0,x2:X1,y1:sy(p),y2:sy(p),stroke:"#000","stroke-width":2});
    
    
    const t=mk("text",g,{x:X0-4,y:sy(p)+8,"text-anchor":"end","font-size":FS});
    t.textContent=CB_SIGMA_LABELS[i];
  });
  CB_TICKS.forEach(p=>{
    mk("line",g,{x1:X1,x2:X1+7,y1:sy(p),y2:sy(p),stroke:"#000","stroke-width":1.5});
    const t=mk("text",g,{x:X1+13,y:sy(p)+8,"font-size":FS});t.textContent=p;
  });
  const lab=mk("text",svg,{transform:"translate(1950,"+((Y0+Y1)/2)+") rotate(-90)","text-anchor":"middle","font-size":FS});
  lab.textContent="Percentile";
  
  
})();
</script>
</body></html>
